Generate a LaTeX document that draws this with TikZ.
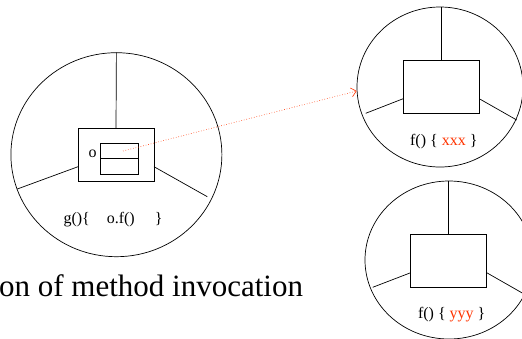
\documentclass[tikz,border=0pt]{standalone}
\usepackage{fontspec}
\setmainfont{Liberation Serif}
\usetikzlibrary{shapes.geometric,arrows.meta,calc}
\definecolor{callred}{RGB}{255,51,0}
\begin{document}
\begin{tikzpicture}[x=1pt,y=-1pt,
  every node/.style={inner sep=0pt,outer sep=0pt},
  wire/.style={draw=black,line width=0.7pt},
  scopering/.style={ellipse,draw=black,line width=0.7pt},
  frame/.style={rectangle,draw=black,line width=0.8pt,minimum width=76pt,minimum height=53pt},
  slotbox/.style={rectangle,draw=black,line width=0.8pt,minimum width=38pt,minimum height=31pt},
  code/.style={font=\fontsize{16}{18}\selectfont,anchor=base},
  calllink/.style={draw=callred,line width=0.6pt,dotted,-{Straight Barb[length=5pt,width=9pt]}}]
\useasboundingbox (0,0) rectangle (522,338);

% caller scope g()
\node[scopering,minimum width=211pt,minimum height=204pt] (cL) at (116.4,154.7) {};
\node[frame] (bL) at (116,155) {};
\node[slotbox] (sL) at (119.8,158.6) {};
\draw[wire,line width=0.8pt] (sL.west) -- (sL.east);
\node[font=\fontsize{16}{18}\selectfont] (oL) at (92.5,153.5) {o};
\coordinate (lL) at (17.3,189);
\coordinate (rL) at (207.3,196.7);
\draw[wire] (bL.north) -- (cL.north);
\draw[wire] ([yshift=-11.7pt]bL.west) -- (lL);
\draw[wire] ([yshift=-11.7pt]bL.east) -- (rL);
\node[code] (tL) at (113,223.3) {g()\{\hspace{17pt}o.f()\hspace{20pt}\}};

% callee scope f() { xxx }
\node[scopering,minimum width=166pt,minimum height=160pt] (cA) at (440,87) {};
\node[frame] (bA) at (441.2,87) {};
\coordinate (lA) at (365.7,113.3);
\coordinate (rA) at (516.7,120);
\draw[wire] (bA.north) -- (bA.north |- cA.north);
\draw[wire] ([yshift=-11.7pt]bA.west) -- (lA);
\draw[wire] ([yshift=-11.7pt]bA.east) -- (rA);
\node[code] (tA) at (443.8,145) {f() \{ \textcolor{callred}{xxx} \}};

% callee scope f() { yyy }
\node[scopering,minimum width=168pt,minimum height=158pt] (cB) at (449,260) {};
\node[frame] (bB) at (448.7,260.8) {};
\coordinate (lB) at (372.7,287.3);
\coordinate (rB) at (524,294);
\draw[wire] (bB.north) -- (bB.north |- cB.north);
\draw[wire] ([yshift=-11.9pt]bB.west) -- (lB);
\draw[wire] ([yshift=-11.9pt]bB.east) -- (rB);
\node[code] (tB) at (451.7,318.3) {f() \{ \textcolor{callred}{yyy} \}};

% invocation link
\coordinate (src) at (123,151);
\coordinate (dst) at (356.7,91);
\draw[calllink] (src) -- (dst);

% caption
\node[anchor=base east,font=\fontsize{31}{34}\selectfont] (cap) at (303,296) {on of method invocation};
\end{tikzpicture}
\end{document}
